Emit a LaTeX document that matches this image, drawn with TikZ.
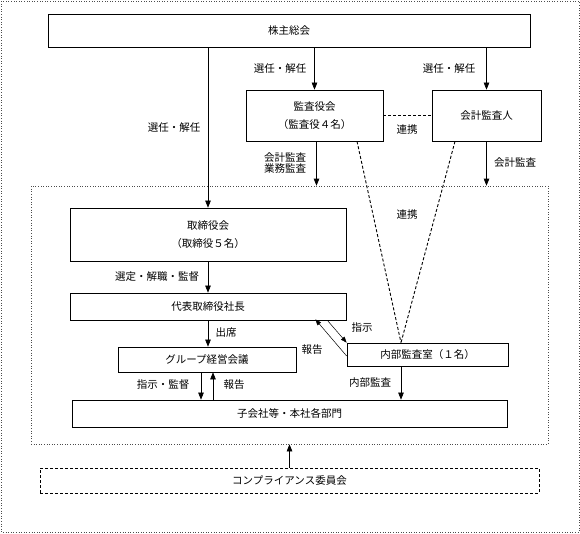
\documentclass[tikz,border=0pt]{standalone}
\usepackage{fontspec}
\setmainfont{Noto Sans CJK JP}
\usetikzlibrary{arrows.meta}

\begin{document}
\begin{tikzpicture}[x=1pt,y=-1pt,
    font=\fontsize{10.5}{12}\selectfont,
    box/.style={draw, rectangle, line width=0.7pt, inner sep=0pt, align=center},
    arr/.style={-{Triangle[length=7pt,width=5.5pt]}, line width=0.6pt},
    thinarr/.style={-{Triangle[length=6pt,width=4.5pt]}, line width=0.5pt},
    link/.style={dash pattern=on 3pt off 2pt, line width=0.9pt},
    lbl/.style={inner sep=0pt}]
    \useasboundingbox (0,0) rectangle (580,533);
    \draw[dotted, black!70, line width=0.6pt] (1,1) rectangle (579,532);

    \node[box, minimum width=482pt, minimum height=33pt] (agm) at (289,30.5) {株主総会};
    \node[box, minimum width=137pt, minimum height=51pt] (kansa) at (314.5,115.5) {監査役会\\[6pt]（監査役４名）};
    \node[box, minimum width=109pt, minimum height=51pt] (kaikei) at (486.5,115.5) {会計監査人};
    \node[draw, dotted, black!70, line width=0.6pt, minimum width=517pt, minimum height=258pt] (inner) at (289.5,315) {};
    \node[box, minimum width=276pt, minimum height=53pt] (board) at (208,234.5) {取締役会\\[6pt]（取締役５名）};
    \node[box, minimum width=276pt, minimum height=27pt] (ceo) at (208,306.5) {代表取締役社長};
    \node[box, minimum width=178pt, minimum height=25pt] (group) at (207,359.5) {グループ経営会議};
    \node[box, minimum width=161pt, minimum height=23pt] (audit) at (427.5,354.5) {内部監査室（１名）};
    \node[box, minimum width=435pt, minimum height=27pt] (units) at (289.5,413.5) {子会社等・本社各部門};
    \node[box, densely dashed, minimum width=499pt, minimum height=25pt] (comp) at (289.5,480.5) {コンプライアンス委員会};

    % labels
    \node[lbl] (l1) at (174,128) {選任・解任};
    \node[lbl] (l2) at (280,69) {選任・解任};
    \node[lbl] (l3) at (449,69) {選任・解任};
    \node[lbl] (l4) at (407,130) {連携};
    \node[lbl, align=center] (l5) at (285,163.5) {会計監査\\[-1pt]業務監査};
    \node[lbl] (l6) at (515,163) {会計監査};
    \node[lbl] (l7) at (407,215) {連携};
    \node[lbl] (l8) at (157,277) {選定・解職・監督};
    \node[lbl] (l9) at (226,333) {出席};
    \node[lbl] (l10) at (362,328) {指示};
    \node[lbl] (l11) at (312,350) {報告};
    \node[lbl] (l12) at (163,385) {指示・監督};
    \node[lbl] (l13) at (234,385) {報告};
    \node[lbl] (l14) at (370,383) {内部監査};

    \draw[arr] (agm.south -| board.north) -- (board.north);
    \draw[arr] (agm.south -| kansa.north) -- (kansa.north);
    \draw[arr] (agm.south -| kaikei.north) -- (kaikei.north);
    \draw[arr] ([xshift=2pt]kansa.south) -- ([xshift=2pt]kansa.south |- inner.north);
    \draw[arr] (kaikei.south) -- (kaikei.south |- inner.north);
    \draw[link] (kansa.east) -- (kaikei.west);
    \draw[link] ([xshift=42.5pt]kansa.south) -- ([xshift=-26.5pt]audit.north);
    \draw[link] ([xshift=-31.5pt]kaikei.south) -- ([xshift=-26.5pt]audit.north);
    \draw[arr] (board.south) -- (ceo.north);
    \draw[arr] (ceo.south) -- (ceo.south |- group.north);
    \draw[thinarr] ([xshift=-19pt]ceo.south east) -- (audit.north west);
    \draw[thinarr] ([yshift=-1.5pt]audit.west) -- ([xshift=-31pt,yshift=1pt]ceo.south east);
    \draw[arr] ([xshift=-6pt]group.south) -- ([xshift=-6pt]group.south |- units.north);
    \draw[arr] ([xshift=6pt]group.south |- units.north) -- ([xshift=6pt]group.south);
    \draw[arr] ([xshift=-26.5pt]audit.south) -- ([xshift=-26.5pt]audit.south |- units.north);
    \draw[arr] (comp.north) -- (inner.south);
\end{tikzpicture}
\end{document}
